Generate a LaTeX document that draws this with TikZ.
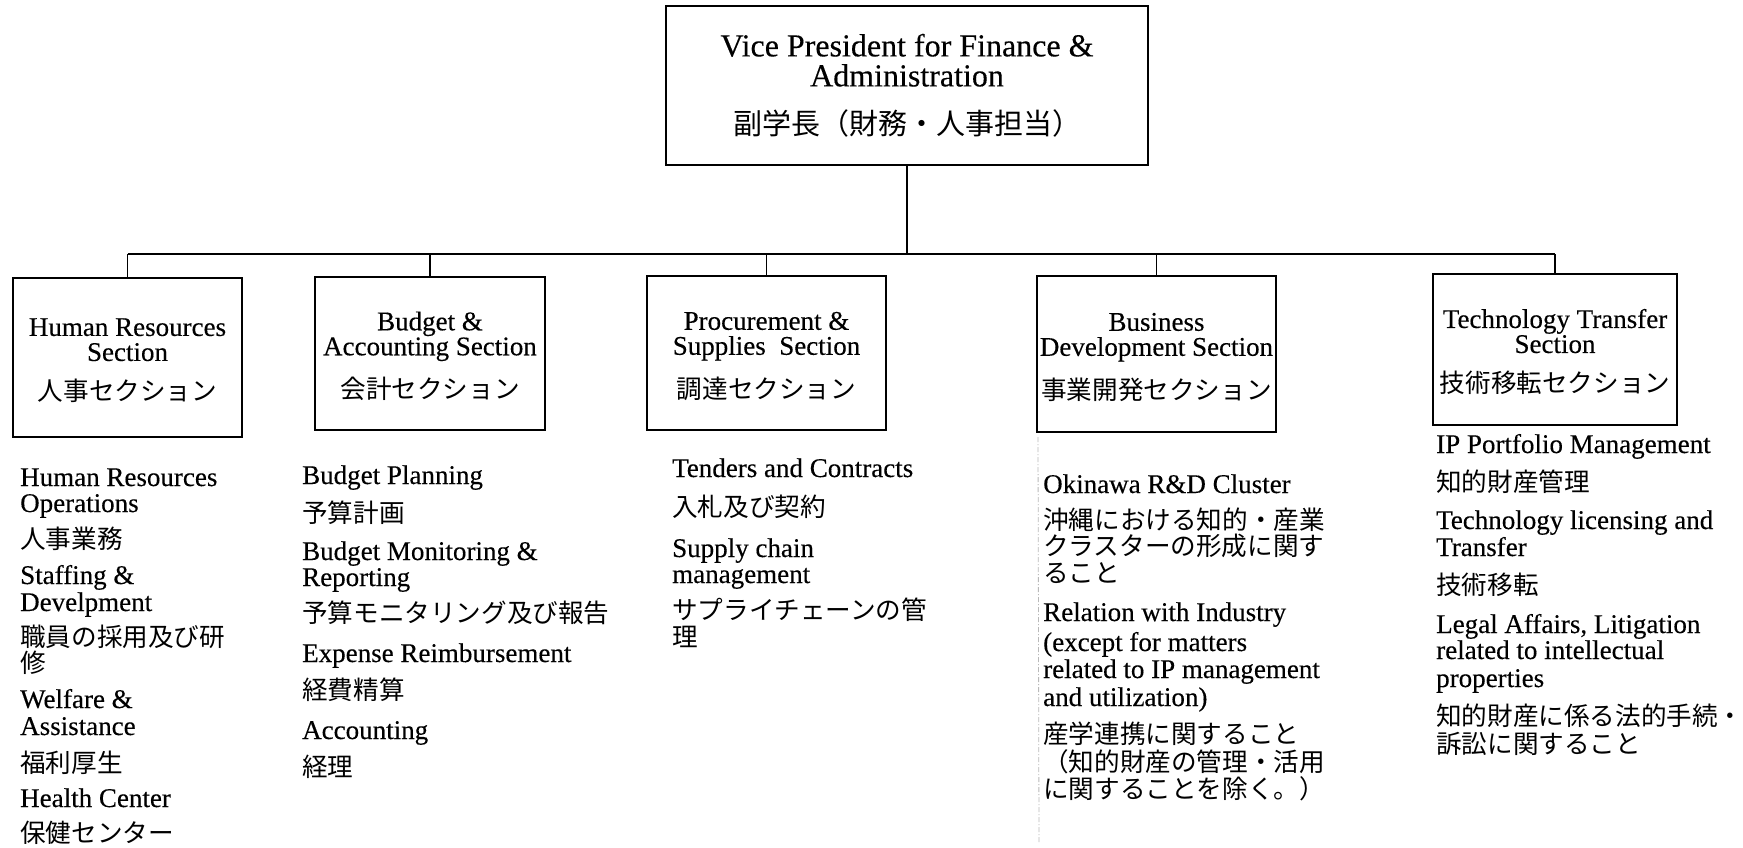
\documentclass[tikz,border=0pt]{standalone}
\usepackage{fontspec}
\setmainfont{Liberation Serif}[FakeBold=0.3]
\newfontfamily\jpfont{Noto Sans CJK JP}
\newcommand\jp[1]{{\fontsize{25.6pt}{26pt}\selectfont\jpfont #1}}
\newcommand\jpbig[1]{{\fontsize{29pt}{30pt}\selectfont\jpfont #1}}
\newcommand\topstrut{\rule{0pt}{24pt}}
\begin{document}
\begin{tikzpicture}[x=1pt,y=-1pt,
  box/.style={draw, line width=2pt, rectangle, inner sep=0pt, align=center},
  secbox/.style={box, font=\fontsize{27pt}{25pt}\selectfont},
  conn/.style={line width=1.6pt},
  item/.style={anchor=base west, inner sep=0pt, font=\fontsize{27pt}{26pt}\selectfont},
  faint/.style={gray!55, line width=0.8pt, dash pattern=on 5pt off 2pt on 1pt off 2pt}]
\fill[white] (0,0) rectangle (1743,848);
\useasboundingbox (0,0) rectangle (1743,848);

% top box
\node[box, minimum width=482pt, minimum height=159pt,
      font=\fontsize{32pt}{30pt}\selectfont] (vp) at (907,85.5)
  {Vice President for Finance \&\\Administration\\[18pt]\jpbig{副学長（財務・人事担当）}};

% section boxes
\node[secbox, minimum width=229pt, minimum height=159pt] (hr) at (127.5,357.5)
  {\topstrut Human Resources\\Section\\[15pt]\jp{人事セクション}};
\node[secbox, minimum width=230pt, minimum height=153pt] (ba) at (430,353.5)
  {\topstrut Budget \&\\Accounting Section\\[15pt]\jp{会計セクション}};
\node[secbox, minimum width=239pt, minimum height=154pt] (ps) at (766.5,353)
  {\topstrut Procurement \&\\Supplies~ Section\\[15pt]\jp{調達セクション}};
\node[secbox, minimum width=239pt, minimum height=156pt] (bd) at (1156.5,354)
  {\topstrut Business\\Development Section\\[15pt]\jp{事業開発セクション}};
\node[secbox, minimum width=244pt, minimum height=151pt] (tt) at (1555,349.5)
  {\topstrut Technology Transfer\\Section\\[15pt]\jp{技術移転セクション}};

% connectors
\coordinate (bus) at (907,254);
\draw[conn] (vp.south) -- (bus);
\draw[conn] (hr.north |- bus) -- (tt.north |- bus);
\foreach \n in {hr,ba,ps,bd,tt} \draw[conn] (\n.north |- bus) -- (\n.north);

% faint dotted line left of business column
\coordinate (fl) at (1039,842);
\draw[faint] (bd.south west) ++(2,4) -- (fl);

% item lists
\foreach \y/\t [count=\i] in {486/{Human Resources}, 512/{Operations}, 548/{\jp{人事業務}},
  584/{Staffing \&}, 611/{Develpment}, 646/{\jp{職員の採用及び研}}, 672/{\jp{修}},
  708/{Welfare \&}, 735/{Assistance}, 772/{\jp{福利厚生}}, 807/{Health Center},
  842/{\jp{保健センター}}}
  \node[item] (hrl\i) at (20,\y) {\t};

\foreach \y/\t [count=\i] in {484/{Budget Planning}, 522/{\jp{予算計画}},
  560/{Budget Monitoring \&}, 586/{Reporting}, 622/{\jp{予算モニタリング及び報告}},
  662/{Expense Reimbursement}, 699/{\jp{経費精算}}, 739/{Accounting}, 776/{\jp{経理}}}
  \node[item] (bal\i) at (302,\y) {\t};

\foreach \y/\t [count=\i] in {477/{Tenders and Contracts}, 516/{\jp{入札及び契約}},
  557/{Supply chain}, 583/{management}, 619/{\jp{サプライチェーンの管}}, 646/{\jp{理}}}
  \node[item] (psl\i) at (672,\y) {\t};

\foreach \y/\t [count=\i] in {493/{Okinawa R\&D Cluster}, 529/{\jp{沖縄における知的・産業}},
  555/{\jp{クラスターの形成に関す}}, 582/{\jp{ること}}, 621/{Relation with Industry},
  651/{(except for matters}, 678/{related to IP management}, 706/{and utilization)},
  743/{\jp{産学連携に関すること}}, 771/{\jp{（知的財産の管理・活用}},
  798/{\jp{に関することを除く。）}}}
  \node[item] (bdl\i) at (1043,\y) {\t};

\foreach \y/\t [count=\i] in {453/{IP Portfolio Management}, 491/{\jp{知的財産管理}},
  529/{Technology licensing and}, 556/{Transfer}, 594/{\jp{技術移転}},
  633/{Legal Affairs, Litigation}, 659/{related to intellectual}, 687/{properties},
  725/{\jp{知的財産に係る法的手続・}}, 753/{\jp{訴訟に関すること}}}
  \node[item] (ttl\i) at (1436,\y) {\t};
\end{tikzpicture}
\end{document}
